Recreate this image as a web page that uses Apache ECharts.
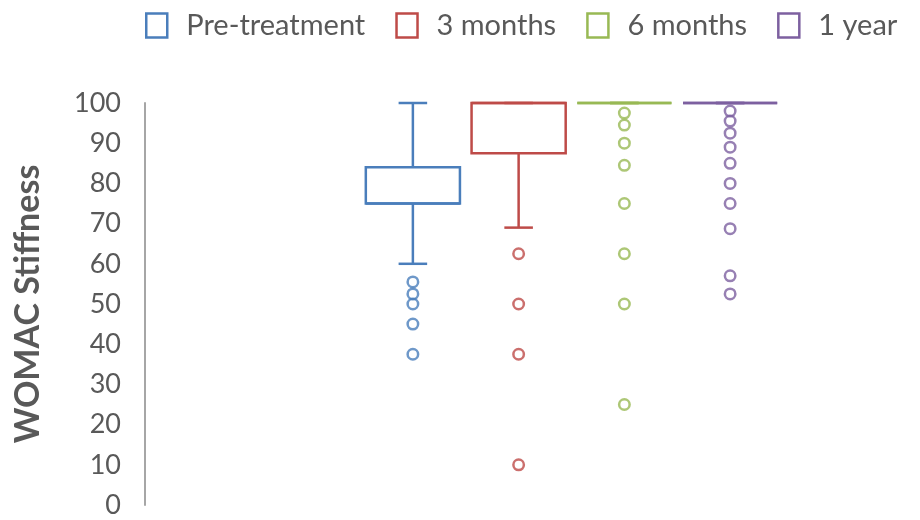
<!DOCTYPE html>
<html>
<head>
<meta charset="utf-8">
<title>WOMAC Stiffness</title>
<script src="https://cdn.jsdelivr.net/npm/echarts@6/dist/echarts.min.js"></script>
<style>
  html, body { margin: 0; padding: 0; background: #fff; }
  #chart { width: 920px; height: 520px; }
</style>
</head>
<body>
<div id="chart"></div>
<script>
// Groups and their colours
const groups = ['Pre-treatment', '3 months', '6 months', '1 year'];
const colors = ['#4a7ebb', '#be4b48', '#98b954', '#7d60a0'];

// Five-number summary per group: [min, Q1, median, Q3, max]
const preStats = [60, 75, 75, 84, 100];
const m3Stats = [69, 87.5, 100, 100, 100];
const m6Stats = [100, 100, 100, 100, 100];
const y1Stats = [100, 100, 100, 100, 100];

// Outlying scores per group
const preOutliers = [55.5, 52.5, 50, 45, 37.5];
const m3Outliers = [62.5, 50, 37.5, 10];
const m6Outliers = [97.5, 94.5, 90, 84.5, 75, 62.5, 50, 25];
const y1Outliers = [98, 95.5, 92.5, 89, 85, 80, 75, 68.75, 57, 52.5];

// Value axis range
const yMin = 0, yMax = 100, yStep = 10;

const allStats = [preStats, m3Stats, m6Stats, y1Stats];
const allOutliers = [preOutliers, m3Outliers, m6Outliers, y1Outliers];

const FONT = 'Lato, "Open Sans", sans-serif';
const TEXT = '#595959';
const STROKE = 2.5;

// Box with narrow whisker caps
function renderBox(params, api) {
  const x = api.value(0);
  const pts = [1, 2, 3, 4, 5].map(function (d) { return api.coord([x, api.value(d)]); });
  const cx = pts[0][0];
  const band = api.size([1, 0])[0];
  const half = band * 0.445;
  const cap = band * 0.135;
  const style = { stroke: api.visual('color'), lineWidth: STROKE, fill: null };
  const yLo = pts[0][1], yQ1 = pts[1][1], yMed = pts[2][1], yQ3 = pts[3][1], yHi = pts[4][1];
  return {
    type: 'group',
    children: [
      { type: 'line', shape: { x1: cx, y1: yQ1, x2: cx, y2: yLo }, style: style },
      { type: 'line', shape: { x1: cx - cap, y1: yLo, x2: cx + cap, y2: yLo }, style: style },
      { type: 'line', shape: { x1: cx, y1: yQ3, x2: cx, y2: yHi }, style: style },
      { type: 'line', shape: { x1: cx - cap, y1: yHi, x2: cx + cap, y2: yHi }, style: style },
      { type: 'rect', shape: { x: cx - half, y: yQ3, width: 2 * half, height: yQ1 - yQ3 }, style: style },
      { type: 'line', shape: { x1: cx - half, y1: yMed, x2: cx + half, y2: yMed }, style: style }
    ]
  };
}

const series = [];
groups.forEach(function (name, i) {
  series.push({
    name: name,
    type: 'custom',
    renderItem: renderBox,
    itemStyle: { color: colors[i] },
    encode: { x: 0, y: [1, 2, 3, 4, 5] },
    data: [[i].concat(allStats[i])],
    z: 2
  });
  series.push({
    name: name,
    type: 'scatter',
    symbol: 'circle',
    symbolSize: 10.5,
    itemStyle: { color: 'rgba(255,255,255,0)', borderColor: colors[i], borderWidth: STROKE },
    data: allOutliers[i].map(function (v) { return [i, v]; }),
    z: 3
  });
});

const chart = echarts.init(document.getElementById('chart'), null, { renderer: 'canvas' });
chart.setOption({
  animation: false,
  backgroundColor: '#fff',
  legend: {
    left: 140,
    top: 6,
    itemWidth: 21,
    itemHeight: 24,
    itemGap: 30,
    textStyle: { fontFamily: FONT, fontSize: 29, color: TEXT, padding: [0, 0, 0, 14] },
    data: groups.map(function (g, i) {
      return { name: g, icon: 'rect', itemStyle: { color: '#fff', borderColor: colors[i], borderWidth: STROKE } };
    })
  },
  grid: { left: 360, right: 137, top: 103, bottom: 15 },
  xAxis: {
    type: 'category',
    data: groups,
    show: false
  },
  yAxis: {
    type: 'value',
    min: yMin,
    max: yMax,
    interval: yStep,
    offset: 215,
    axisLine: { show: true, lineStyle: { color: '#a6a6a6', width: 2 } },
    axisTick: { show: false },
    splitLine: { show: false },
    axisLabel: { fontFamily: FONT, fontSize: 27, color: TEXT, margin: 24 },
    name: 'WOMAC Stiffness',
    nameLocation: 'middle',
    nameGap: 100,
    nameTextStyle: { fontFamily: FONT, fontSize: 34, fontWeight: 'bold', color: TEXT }
  },
  series: series
});
</script>
</body>
</html>
